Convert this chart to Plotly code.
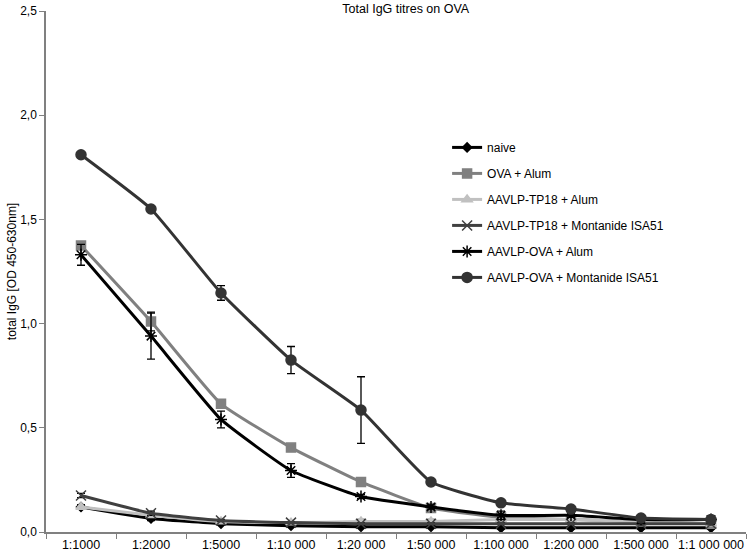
import plotly.graph_objects as go

diluciones = ["1:1000", "1:2000", "1:5000", "1:10 000", "1:20 000", "1:50 000",
              "1:100 000", "1:200 000", "1:500 000", "1:1 000 000"]

naive = [0.12, 0.065, 0.04, 0.03, 0.025, 0.025, 0.02, 0.02, 0.02, 0.02]
naive_err = [0.01, 0.01, 0.005, 0.005, 0.005, 0.005, 0.005, 0.005, 0.005, 0.005]

ova_alum = [1.375, 1.01, 0.615, 0.405, 0.24, 0.115, 0.07, 0.06, 0.05, 0.04]
ova_alum_err = [0.01, 0.045, 0.01, 0.01, 0.01, 0.01, 0.01, 0.01, 0.01, 0.01]

tp18_alum = [0.12, 0.08, 0.05, 0.045, 0.05, 0.05, 0.06, 0.06, 0.05, 0.04]
tp18_alum_err = [0.01, 0.01, 0.005, 0.005, 0.01, 0.01, 0.01, 0.01, 0.01, 0.01]

tp18_mont = [0.175, 0.09, 0.055, 0.045, 0.04, 0.04, 0.04, 0.04, 0.04, 0.04]
tp18_mont_err = [0.01, 0.01, 0.005, 0.005, 0.005, 0.005, 0.005, 0.005, 0.005, 0.005]

aavlp_ova_alum = [1.33, 0.94, 0.54, 0.295, 0.17, 0.12, 0.08, 0.08, 0.06, 0.06]
aavlp_ova_alum_err = [0.05, 0.11, 0.04, 0.033, 0.01, 0.01, 0.02, 0.01, 0.02, 0.01]

aavlp_ova_mont = [1.81, 1.55, 1.147, 0.825, 0.585, 0.24, 0.14, 0.11, 0.067, 0.06]
aavlp_ova_mont_err = [0.01, 0.01, 0.035, 0.065, 0.16, 0.015, 0.01, 0.01, 0.01, 0.01]

series = [
    ("naive", naive, naive_err, "#000000", "diamond", 7),
    ("OVA + Alum", ova_alum, ova_alum_err, "#808080", "square", 9),
    ("AAVLP-TP18 + Alum", tp18_alum, tp18_alum_err, "#c0c0c0", "triangle-up", 9),
    ("AAVLP-TP18 + Montanide ISA51", tp18_mont, tp18_mont_err, "#404040", "x-thin-open", 10),
    ("AAVLP-OVA + Alum", aavlp_ova_alum, aavlp_ova_alum_err, "#000000", "asterisk-open", 10),
    ("AAVLP-OVA + Montanide ISA51", aavlp_ova_mont, aavlp_ova_mont_err, "#333333", "circle", 10),
]

fig = go.Figure()
for i, (nombre, vals, err, color, simbolo, tam) in enumerate(series):
    fig.add_trace(go.Scatter(
        x=diluciones, y=vals, name=nombre, legendgroup=str(i),
        mode="lines+markers", line=dict(color=color, width=3, shape="spline", smoothing=0.4),
        marker=dict(symbol=simbolo, size=tam, color=color, line=dict(color=color, width=1.5)),
        error_y=dict(type="data", array=err, color="#000000", thickness=1.3, width=4),
    ))

fig.update_layout(
    width=750, height=553,
    margin=dict(l=46, r=4, t=11, b=21),
    paper_bgcolor="white", plot_bgcolor="white",
    font=dict(family="Liberation Sans, Arial", size=12, color="#000000"),
    separators=",.",
    title=dict(text="Total IgG titres on OVA", x=0.541, xanchor="center",
               y=0.993, yanchor="top", font=dict(size=12.5)),
    legend=dict(x=0.573, y=0.766, xanchor="left", yanchor="top",
                tracegroupgap=7, bgcolor="rgba(0,0,0,0)", font=dict(size=12)),
    showlegend=True,
)
fig.update_xaxes(
    type="category", showgrid=False, showline=True, linecolor="#808080", linewidth=1.5,
    ticks="outside", tickson="boundaries", ticklen=5, tickcolor="#808080",
    tickfont=dict(size=12.5), tickangle=0, range=[-0.5, 9.5], automargin=False,
)
fig.update_yaxes(
    range=[0, 2.5], tickvals=[0, 0.5, 1, 1.5, 2, 2.5], tickformat=".1f",
    showgrid=False, showline=True, linecolor="#808080", linewidth=1.5, zeroline=False,
    ticks="outside", ticklen=5, tickcolor="#808080", tickfont=dict(size=12),
    title=dict(text="total IgG [OD 450-630nm]", font=dict(size=12), standoff=1),
    automargin=False,
)

# quitar el margen por defecto del body para que la figura ocupe la ventana
fig.write_html("out.html", config={"displayModeBar": False},
               post_script="document.body.style.margin='0';")
